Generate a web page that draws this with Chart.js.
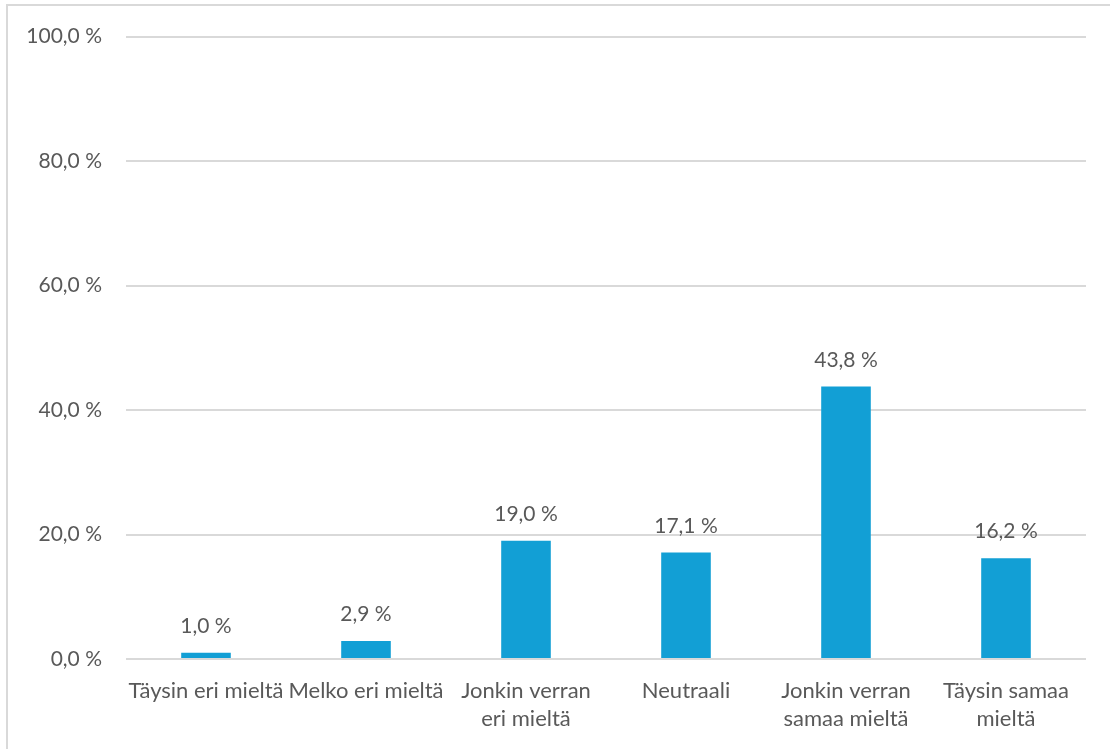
<!DOCTYPE html>
<html>
<head>
<meta charset="utf-8">
<script src="https://cdn.jsdelivr.net/npm/chart.js@4/dist/chart.umd.min.js"></script>
<style>
    body { margin: 0; background: #ffffff; }
    #wrap { position: relative; width: 1110px; height: 749px; }
</style>
</head>
<body>
<div id="wrap"><canvas id="chart"></canvas></div>
<script>
const categories = [
    'Täysin eri mieltä',
    'Melko eri mieltä',
    ['Jonkin verran', 'eri mieltä'],
    'Neutraali',
    ['Jonkin verran', 'samaa mieltä'],
    ['Täysin samaa', 'mieltä']
];
const shares = [1.0, 2.9, 19.0, 17.1, 43.8, 16.2];
const yTicks = [0, 20, 40, 60, 80, 100];

const fontFamily = 'Lato, "Open Sans", sans-serif';
const textColor = '#595959';

function formatPercent(v) {
    return v.toFixed(1).replace('.', ',') + ' %';
}

// value labels above each bar + light frame round the chart
const valueLabels = {
    id: 'valueLabels',
    afterDatasetsDraw(chart) {
        const ctx = chart.ctx;
        const meta = chart.getDatasetMeta(0);
        ctx.save();
        ctx.font = '21px ' + fontFamily;
        ctx.fillStyle = textColor;
        ctx.textAlign = 'center';
        ctx.textBaseline = 'bottom';
        meta.data.forEach((bar, i) => {
            ctx.fillText(formatPercent(shares[i]), bar.x, bar.y - 16);
        });
        ctx.restore();
    },
    afterDraw(chart) {
        const ctx = chart.ctx;
        ctx.save();
        ctx.strokeStyle = '#d9d9d9';
        ctx.lineWidth = 2;
        ctx.strokeRect(7, 5, 1200, 900);
        ctx.restore();
    }
};

const ctx = document.getElementById('chart').getContext('2d');
const chart = new Chart(ctx, {
    type: 'bar',
    data: {
        labels: categories,
        datasets: [{
            data: shares,
            backgroundColor: '#129fd5',
            categoryPercentage: 1,
            barPercentage: 0.31
        }]
    },
    options: {
        responsive: true,
        maintainAspectRatio: false,
        animation: false,
        layout: { padding: { left: 0, right: 24, top: 36, bottom: 0 } },
        plugins: {
            legend: { display: false },
            tooltip: { enabled: false }
        },
        scales: {
            x: {
                grid: { display: false, drawTicks: false },
                border: { display: false },
                ticks: {
                    color: textColor,
                    font: { family: fontFamily, size: 22, lineHeight: 1.27 },
                    autoSkip: false,
                    maxRotation: 0,
                    minRotation: 0,
                    padding: 18
                },
                afterFit(scale) { scale.height = 90; }
            },
            y: {
                min: 0,
                max: 100,
                afterBuildTicks(scale) {
                    scale.ticks = yTicks.map(v => ({ value: v }));
                },
                grid: { color: '#d9d9d9', lineWidth: 2, drawTicks: false },
                border: { display: false },
                ticks: {
                    color: textColor,
                    font: { family: fontFamily, size: 21 },
                    padding: 24,
                    callback: v => formatPercent(v)
                },
                afterFit(scale) { scale.width = 126; }
            }
        }
    },
    plugins: [valueLabels]
});
</script>
</body>
</html>
